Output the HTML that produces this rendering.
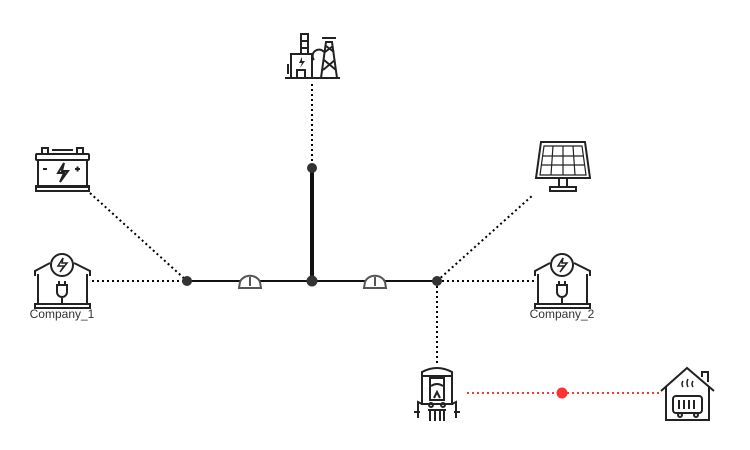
<!DOCTYPE html>
<html><head><style>
html,body{margin:0;padding:0;background:#fff;width:750px;height:450px;overflow:hidden}
svg{display:block}
text{font-family:"Liberation Sans",sans-serif;font-size:12px;fill:#333}
</style></head><body>
<svg width="750" height="450" viewBox="0 0 750 450" xmlns="http://www.w3.org/2000/svg">
<g stroke="#000" stroke-width="2" stroke-dasharray="2,3" fill="none">
<line x1="312" y1="84" x2="312" y2="168"/>
<line x1="90" y1="193" x2="187" y2="281"/>
<line x1="92" y1="281" x2="187" y2="281"/>
<line x1="437" y1="281" x2="533" y2="195"/>
<line x1="437" y1="281" x2="535" y2="281"/>
<line x1="437" y1="281" x2="437" y2="364"/>
</g>
<line x1="467" y1="393" x2="660" y2="393" stroke="#f33" stroke-width="2" stroke-dasharray="2,3"/>
<circle cx="562" cy="393" r="5.5" fill="#f33"/>
<line x1="187" y1="281" x2="437" y2="281" stroke="#111" stroke-width="2"/>
<line x1="312" y1="168" x2="312" y2="281" stroke="#111" stroke-width="4"/>
<g fill="#333"><circle cx="187" cy="281" r="5"/><circle cx="312" cy="281" r="5.5"/><circle cx="312" cy="168" r="5"/><circle cx="437" cy="281" r="5"/></g>
<!-- gauges -->
<g fill="#fff" stroke="#555" stroke-width="2">
<path d="M239 288 L240 282 A10.5 9 0 0 1 260 282 L261 288 Z"/><line x1="250" y1="277" x2="250" y2="286"/>
<path d="M364 288 L365 282 A10.5 9 0 0 1 385 282 L386 288 Z"/><line x1="375" y1="277" x2="375" y2="286"/>
</g>
<!-- power plant -->
<g stroke="#222" stroke-width="2" fill="none">
<line x1="285" y1="78" x2="340" y2="78"/>
<rect x="301" y="34" width="7" height="20"/>
<line x1="301" y1="41" x2="308" y2="41"/><line x1="301" y1="48" x2="308" y2="48"/>
<path d="M291 78 V54 H312 V78"/><rect x="297" y="70" width="8" height="8"/>
<path d="M314 60 A6 6 0 0 1 324 52"/>
<path d="M321 78 L326 42 H332 L337 78"/><path d="M322 38 H336"/>
<path d="M323 70 L335 60 M324 60 L336 70 M325 52 L333 46 M326 46 L334 52"/>
<path d="M288 64 V74"/>
</g>
<path d="M302 57 L299 63 H302 L300 68 L305 61 H302 Z" fill="#222"/>
<!-- battery -->
<g stroke="#222" stroke-width="2" fill="none">
<rect x="36" y="154" width="53" height="6" rx="1"/>
<rect x="38" y="160" width="49" height="27"/>
<rect x="36" y="186" width="53" height="5"/>
<path d="M42 154 V148 H48 V154 M77 154 V148 H83 V154 M52 150 H73"/>
<path d="M43 169 H47 M75 169 H80 M77.5 166.5 V171.5"/>
<path d="M64 163 L58 173 H64 L60 182 L68 171 H62 Z"/>
</g>
<!-- company houses -->
<g id="h" stroke="#222" stroke-width="2" fill="none">
<path d="M35 276 V271 L50 263 M74 263 L90 271 V276"/>
<path d="M38 274 V304 M87 274 V304"/>
<circle cx="62" cy="265" r="11"/>
<path d="M63 258 L58 266 H64 L60 272 L67 263 H62 Z" stroke-width="1.5"/>
<path d="M57 285 H67 V292 A5 5 0 0 1 57 292 Z M59 285 V281 M65 285 V281 M62 297 V304"/>
<rect x="35" y="304" width="55" height="4"/>
</g>
<use href="#h" x="500"/>
<text x="62" y="318" text-anchor="middle">Company_1</text>
<text x="562" y="318" text-anchor="middle">Company_2</text>
<!-- solar panel -->
<g stroke="#222" stroke-width="2" fill="none">
<path d="M541 142 H585 L590 178 H536 Z"/>
<path d="M544 146 H582 L586 175 H540 Z" stroke-width="1.2"/>
<path d="M553 146 L551 175 M563 146 V175 M573 146 L575 175 M542 156 H584 M541 165 H585" stroke-width="1.2"/>
<path d="M559 178 V187 M567 178 V187"/><rect x="550" y="187" width="26" height="4"/>
</g>
<!-- boiler -->
<g stroke="#222" stroke-width="2" fill="none">
<path d="M422 372 Q437 364 452 372 V404 H422 Z"/>
<line x1="422" y1="376" x2="452" y2="376"/>
<rect x="430" y="378" width="14" height="22"/>
<path d="M431 386 Q437 382 443 386"/><path d="M434 398 L437 392 L440 398"/>
<circle cx="431" cy="405" r="2"/><circle cx="443" cy="405" r="2"/>
<path d="M422 404 L418 402 V418 M452 404 L456 402 V418 M414 412 H420 M454 412 H460"/>
<path d="M428 410 H446 M430 410 V421 M435 410 V421 M440 410 V421 M444 410 V421"/>
</g>
<!-- heated house -->
<g stroke="#222" stroke-width="2" fill="none">
<path d="M661 391 L687 368 L714 391"/>
<path d="M702 377 V372 H708 V382"/>
<path d="M666 387 V420 H709 V387"/>
<rect x="673" y="396" width="29" height="17" rx="3"/>
<path d="M679 400 V409 M684 400 V409 M689 400 V409 M694 400 V409"/>
<circle cx="680" cy="415" r="2"/><circle cx="696" cy="415" r="2"/>
<path d="M683 381 q-2 3 0 6 M688 379 q-2 4 0 8 M693 381 q-2 3 0 6" stroke-width="1.5"/>
</g>
</svg>
</body></html>
